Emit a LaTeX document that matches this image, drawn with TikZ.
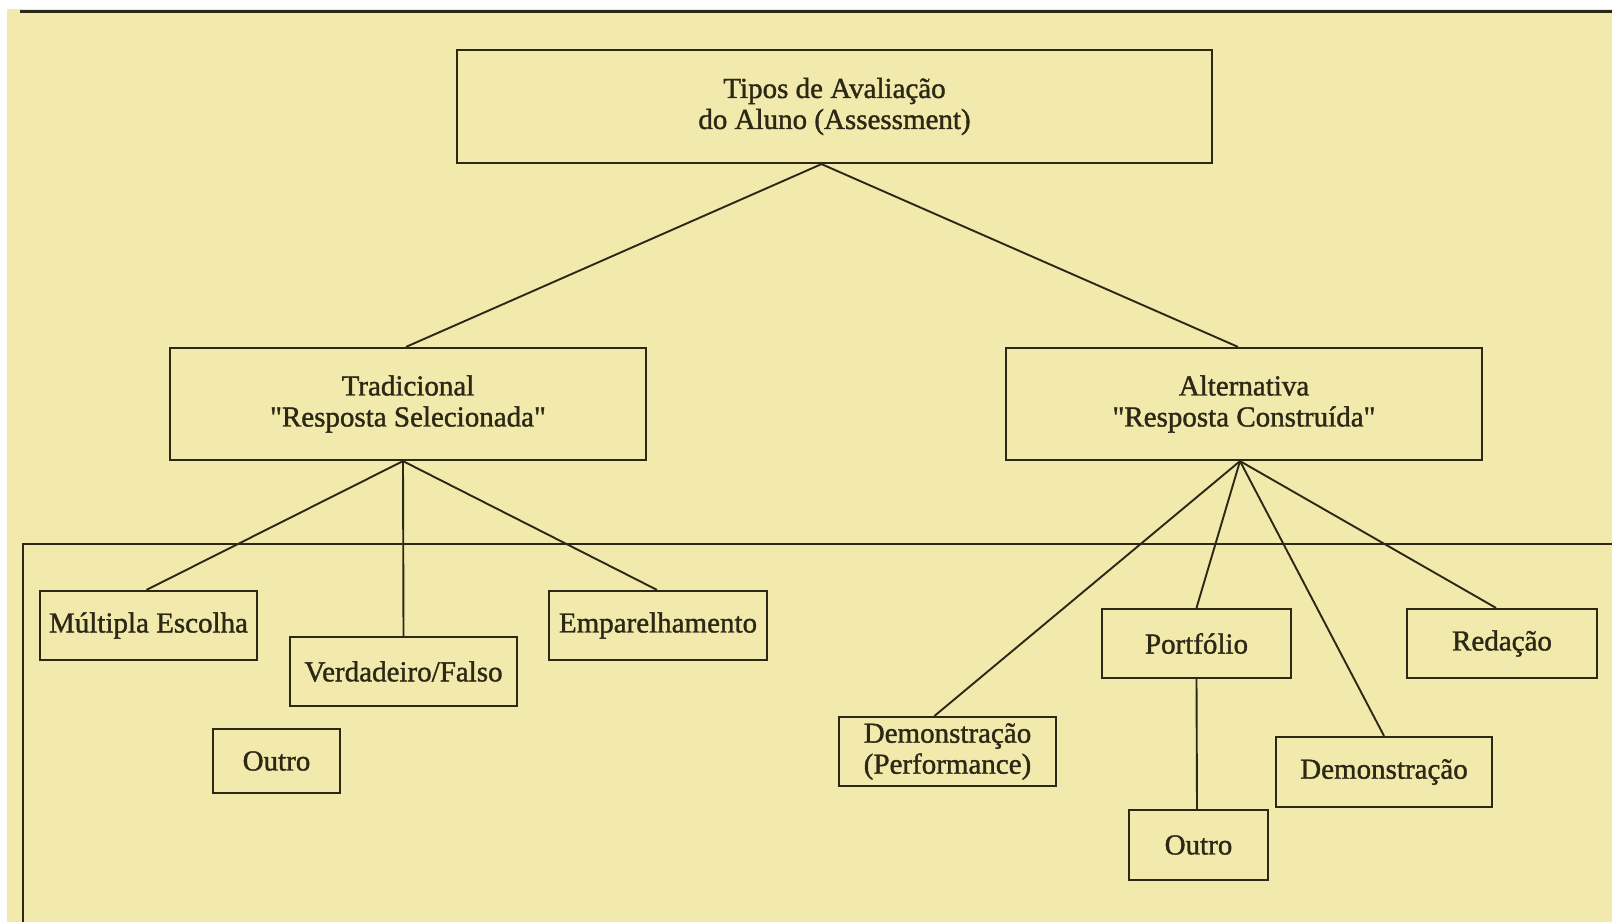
\documentclass[tikz,border=0pt]{standalone}
\usepackage{fontspec}
\setmainfont{Liberation Serif}[Ligatures=TeXOff]
\newfontfamily\boxfont{Liberation Serif}[FakeBold=1.3,Ligatures=TeXOff]
\definecolor{paper}{RGB}{242,234,172}
\definecolor{ink}{RGB}{44,40,22}
\begin{document}
\begin{tikzpicture}[x=1pt,y=-1pt,
  box/.style={draw=ink,line width=2.2pt,inner sep=0pt,align=center,text=ink,
    font=\boxfont\fontsize{29}{31}\selectfont},
  link/.style={draw=ink,line width=1.9pt}]
\useasboundingbox (0,0) rectangle (1612,922);
\fill[white] (0,0) rectangle (1612,922);
\fill[paper] (7,9) rectangle (1612,922);
\draw[ink,line width=3pt] (20,11) -- (1612,11);
% nodes
\node[box,minimum width=755pt,minimum height=113pt] (top) at (834.5,106.5) {Tipos de Avaliação\\do Aluno (Assessment)};
\node[box,minimum width=476pt,minimum height=112pt] (trad) at (408,404) {Tradicional\\"Resposta Selecionada"};
\node[box,minimum width=476pt,minimum height=112pt] (alt) at (1244,404) {Alternativa\\"Resposta Construída"};
\node[box,minimum width=217pt,minimum height=69pt] (mult) at (148.5,625.5) {Múltipla Escolha};
\node[box,minimum width=227pt,minimum height=69pt] (vf) at (403.5,671.5) {Verdadeiro/Falso};
\node[box,minimum width=218pt,minimum height=69pt] (emp) at (658,625.5) {Emparelhamento};
\node[box,minimum width=127pt,minimum height=64pt] (outroA) at (276.5,761) {Outro};
\node[box,minimum width=189pt,minimum height=69pt] (port) at (1196.5,643.5) {Portfólio};
\node[box,minimum width=190pt,minimum height=69pt] (red) at (1502,643.5) {Redação};
\node[box,minimum width=217pt,minimum height=69pt] (demP) at (947.5,751.5) {Demonstração\\(Performance)};
\node[box,minimum width=216pt,minimum height=70pt] (dem) at (1384,772) {Demonstração};
\node[box,minimum width=139pt,minimum height=70pt] (outroB) at (1198.5,845) {Outro};
% frame line
\coordinate (hr) at (1612,544);
\coordinate (hl) at (23,544);
\coordinate (hb) at (23,922);
\draw[link] (hr) -- (hl) -- (hb);
% connectors
\draw[link] ([xshift=-13pt]top.south) -- ([xshift=-2pt]trad.north);
\draw[link] ([xshift=-13pt]top.south) -- ([xshift=-6pt]alt.north);
\draw[link] ([xshift=-5pt]trad.south) -- ([xshift=-2pt]mult.north);
\draw[link] ([xshift=-5pt]trad.south) -- (vf.north);
\draw[link] ([xshift=-5pt]trad.south) -- ([xshift=-1pt]emp.north);
\draw[link] ([xshift=-4pt]alt.south) -- ([xshift=-13pt]demP.north);
\draw[link] ([xshift=-4pt]alt.south) -- (port.north);
\draw[link] ([xshift=-4pt]alt.south) -- (dem.north);
\draw[link] ([xshift=-4pt]alt.south) -- ([xshift=-6pt]red.north);
\draw[link] (port.south) -- ([xshift=-1.5pt]outroB.north);
\end{tikzpicture}
\end{document}
